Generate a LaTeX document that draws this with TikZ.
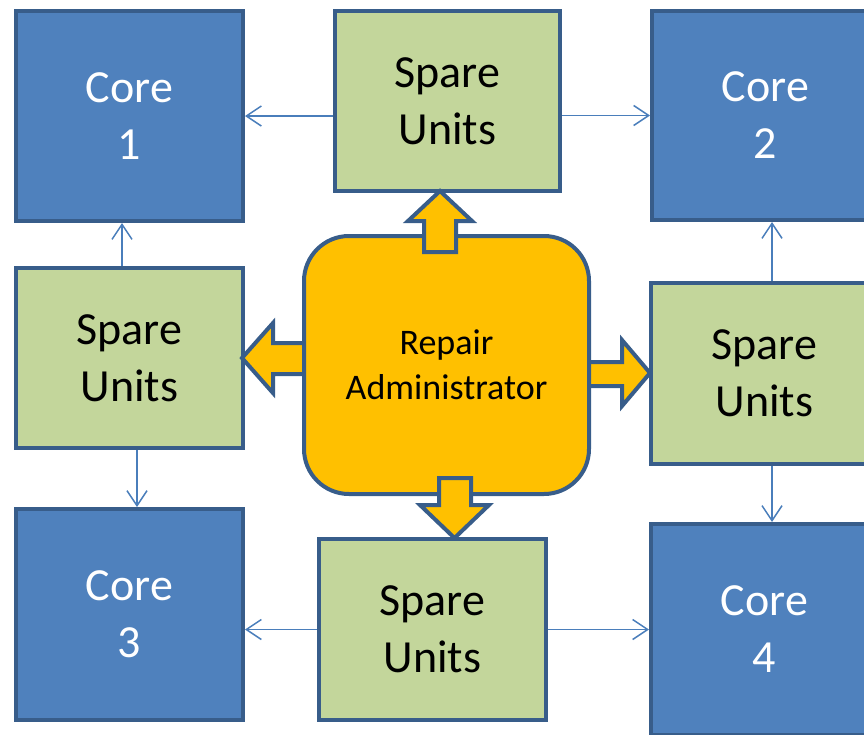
\documentclass[tikz,border=0pt]{standalone}
\usepackage{fontspec}
\setmainfont{Carlito}
\usetikzlibrary{arrows.meta}
\definecolor{corefill}{HTML}{4F81BD}
\definecolor{edgeblue}{HTML}{385D8A}
\definecolor{sparefill}{HTML}{C3D69B}
\definecolor{adminfill}{HTML}{FFC000}
\definecolor{linkblue}{HTML}{4A7EBB}
\begin{document}
\begin{tikzpicture}[x=1pt,y=-1pt,
  box/.style={draw=edgeblue, line width=4pt, rectangle, align=center, inner sep=0pt,
    font=\fontsize{46}{57}\selectfont},
  corebox/.style={box, fill=corefill, text=white, minimum width=227pt, minimum height=210pt},
  sparebox/.style={box, fill=sparefill, text=black, minimum width=227pt, minimum height=181pt},
  adminbox/.style={box, fill=adminfill, text=black, rounded corners=45pt,
    minimum width=285pt, minimum height=258pt, font=\fontsize{36}{45}\selectfont},
  blockarrow/.style={draw=edgeblue, fill=adminfill, line width=4pt, line join=miter},
  link/.style={draw=linkblue, line width=1.5pt, -{Straight Barb[length=15pt,width=20pt]}}
]
\useasboundingbox (0,0) rectangle (864,734);
\clip (0,0) rectangle (864,734);

% cores and spare-unit banks
\node[corebox] (c1) at (129.5,116) {Core\\1};
\node[sparebox, minimum width=225pt, minimum height=180pt] (st) at (447.5,101) {Spare\\Units};
\node[corebox, minimum height=209pt] (c2) at (765.5,115.5) {Core\\2};
\node[sparebox, minimum height=180pt] (sl) at (129.5,358) {Spare\\Units};
\node[sparebox] (sr) at (764.5,373.5) {Spare\\Units};
\node[corebox, minimum height=211pt] (c3) at (129.5,614.5) {Core\\3};
\node[sparebox] (sb) at (432.5,629.5) {Spare\\Units};
\node[corebox, minimum height=211pt] (c4) at (764.5,629.5) {Core\\4};

% side block arrows sit behind the administrator box
\draw[blockarrow] (320,343) -- (273,343) -- (273,323) -- (242,358) -- (273,393)
  -- (273,374) -- (320,374) -- cycle;
\draw[blockarrow] (570,362) -- (622,362) -- (622,340) -- (650,373) -- (622,406)
  -- (622,386) -- (570,386) -- cycle;

\node[adminbox] (ra) at (446.5,365) {Repair\\Administrator};

% vertical block arrows drawn over the administrator box
\draw[blockarrow] (424,252) -- (424,221) -- (408,221) -- (440,191) -- (472,221)
  -- (456,221) -- (456,252) -- cycle;
\draw[blockarrow] (439,478) -- (439,505) -- (420,505) -- (454.5,538) -- (489,505)
  -- (471,505) -- (471,478) -- cycle;

% spare units to cores
\draw[link] (st.west |- c1.east) -- (c1.east);
\draw[link] (st.east |- c2.west) -- (c2.west);
\draw[link] ([xshift=-7.5pt]sl.north) -- ([xshift=-7.5pt]sl.north |- c1.south);
\draw[link] ([xshift=7.5pt]sl.south) -- ([xshift=7.5pt]sl.south |- c3.north);
\draw[link] (sb.west) -- (sb.west -| c3.east);
\draw[link] (sb.east) -- (c4.west);
\draw[link] ([xshift=7.5pt]sr.north) -- ([xshift=7.5pt]sr.north |- c2.south);
\draw[link] ([xshift=7.5pt]sr.south) -- ([xshift=7.5pt]sr.south |- c4.north);
\end{tikzpicture}
\end{document}
